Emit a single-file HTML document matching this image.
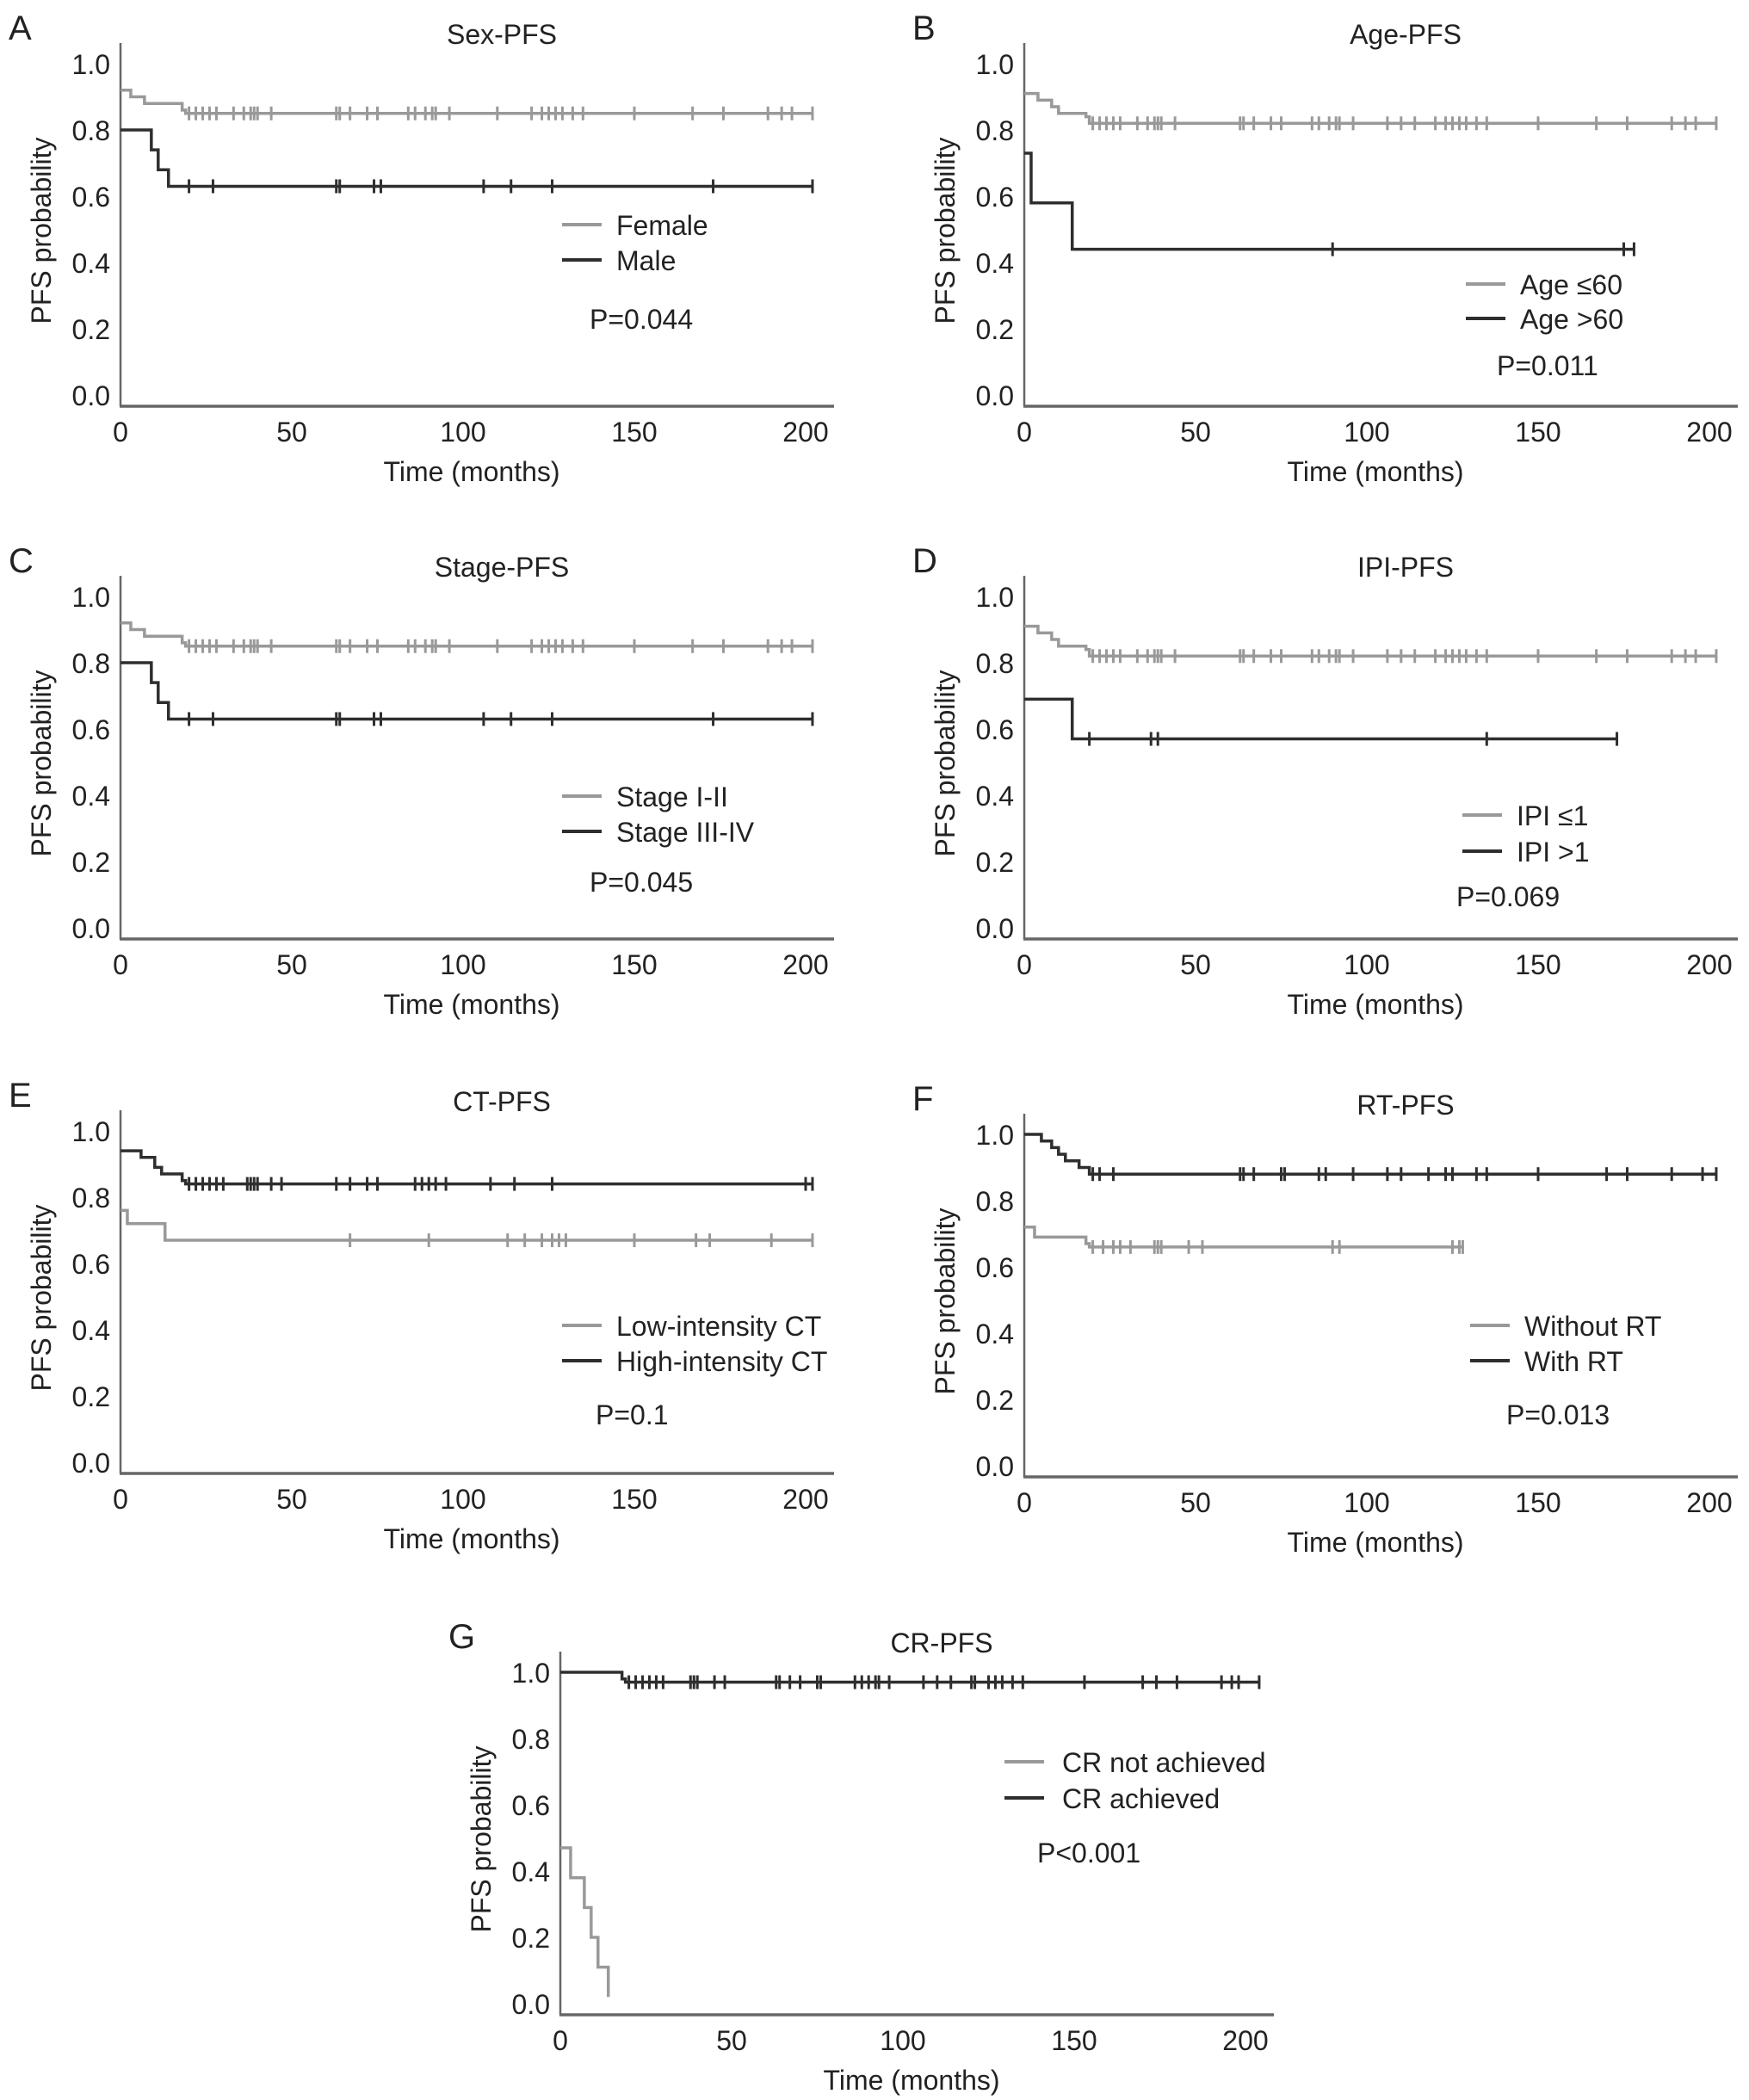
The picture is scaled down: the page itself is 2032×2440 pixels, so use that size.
<!DOCTYPE html>
<html><head><meta charset="utf-8"><style>
html,body{margin:0;padding:0;background:#fff}
svg{display:block}
text{font-family:"Liberation Sans",sans-serif;fill:#222}
</style></head><body>
<svg id="fig" width="2032" height="2440" viewBox="0 0 2032 2440" xmlns="http://www.w3.org/2000/svg"></svg>
<script>
// ---- data (time in months, survival probability) ----
const xTicks = [0, 50, 100, 150, 200];
const yTicks = [0.0, 0.2, 0.4, 0.6, 0.8, 1.0];

const femaleT = [0, 3, 7, 18, 19, 202];
const femaleS = [0.92, 0.90, 0.88, 0.86, 0.85, 0.85];
const femaleCens = [20,22,24,26,28,33,36,38,39,40,44,63,64,67,72,75,84,86,89,91,92,96,110,120,123,125,127,129,132,135,150,167,176,189,193,196,202];
const maleT = [0, 9, 11, 14, 202];
const maleS = [0.80, 0.74, 0.68, 0.63, 0.63];
const maleCens = [20,27,63,64,74,76,106,114,126,173,202];

const age60T = [0, 4, 8, 10, 18, 19, 202];
const age60S = [0.91, 0.89, 0.87, 0.85, 0.84, 0.82, 0.82];
const age60Cens = [20,22,24,26,28,33,36,38,39,40,44,63,64,67,72,75,84,86,89,91,92,96,106,110,114,120,123,125,127,129,132,135,150,167,176,189,193,196,202];
const ageOldT = [0, 2, 14, 178];
const ageOldS = [0.73, 0.58, 0.44, 0.44];
const ageOldCens = [90,175,178];

const stage12T = [0, 3, 7, 18, 19, 202];
const stage12S = [0.92, 0.90, 0.88, 0.86, 0.85, 0.85];
const stage12Cens = femaleCens;
const stage34T = [0, 9, 11, 14, 202];
const stage34S = [0.80, 0.74, 0.68, 0.63, 0.63];
const stage34Cens = maleCens;

const ipiLowT = [0, 4, 8, 10, 18, 19, 202];
const ipiLowS = [0.91, 0.89, 0.87, 0.85, 0.84, 0.82, 0.82];
const ipiLowCens = age60Cens;
const ipiHighT = [0, 14, 173];
const ipiHighS = [0.69, 0.57, 0.57];
const ipiHighCens = [19,37,39,135,173];

const ctLowT = [0, 2, 13, 202];
const ctLowS = [0.76, 0.72, 0.67, 0.67];
const ctLowCens = [67,90,113,118,123,126,128,130,150,168,172,190,202];
const ctHighT = [0, 6, 10, 12, 18, 19, 202];
const ctHighS = [0.94, 0.92, 0.89, 0.87, 0.85, 0.84, 0.84];
const ctHighCens = [20,22,24,26,28,30,37,38,39,40,44,47,63,67,72,75,86,88,90,92,95,108,115,126,200,202];

const rtNoT = [0, 3, 18, 19, 128];
const rtNoS = [0.72, 0.69, 0.67, 0.66, 0.66];
const rtNoCens = [20,23,26,28,31,38,39,40,48,52,90,92,125,127,128];
const rtYesT = [0, 5, 8, 10, 12, 16, 19, 202];
const rtYesS = [1.0, 0.98, 0.96, 0.94, 0.92, 0.90, 0.88, 0.88];
const rtYesCens = [20,22,26,63,64,67,75,76,86,88,96,106,110,118,123,125,132,135,150,170,176,189,198,202];

const crNoT = [0, 3, 7, 9, 11, 14];
const crNoS = [0.47, 0.38, 0.29, 0.20, 0.11, 0.02];
const crYesT = [0, 18, 19, 204];
const crYesS = [1.0, 0.98, 0.97, 0.97];
const crYesCens = [20,22,24,26,28,30,38,39,40,45,48,63,64,67,70,75,76,86,88,90,92,93,96,106,110,114,120,121,125,127,129,132,135,153,170,174,180,193,196,198,204];

const GRAY = "#999", DARK = "#2e2e2e";
const NS = "http://www.w3.org/2000/svg";
const svg = document.getElementById('fig');

function mk(tag, attrs, parent) {
  const e = document.createElementNS(NS, tag);
  for (const k in attrs) e.setAttribute(k, attrs[k]);
  (parent || svg).appendChild(e);
  return e;
}

const panels = [
  {id:'a', letter:'A', title:'Sex-PFS', ox:0, oy:0,
   series:[{t:femaleT,s:femaleS,c:femaleCens,col:GRAY,name:'Female'},{t:maleT,s:maleS,c:maleCens,col:DARK,name:'Male'}],
   leg:[261,302], lx:653, tx:716, p:'P=0.044', px:685, py:370},
  {id:'b', letter:'B', title:'Age-PFS', ox:1050, oy:0,
   series:[{t:age60T,s:age60S,c:age60Cens,col:GRAY,name:'Age ≤60'},{t:ageOldT,s:ageOldS,c:ageOldCens,col:DARK,name:'Age >60'}],
   leg:[330,370], lx:653, tx:716, p:'P=0.011', px:689, py:424},
  {id:'c', letter:'C', title:'Stage-PFS', ox:0, oy:619,
   series:[{t:stage12T,s:stage12S,c:stage12Cens,col:GRAY,name:'Stage I-II'},{t:stage34T,s:stage34S,c:stage34Cens,col:DARK,name:'Stage III-IV'}],
   leg:[306,347], lx:653, tx:716, p:'P=0.045', px:685, py:405},
  {id:'d', letter:'D', title:'IPI-PFS', ox:1050, oy:619,
   series:[{t:ipiLowT,s:ipiLowS,c:ipiLowCens,col:GRAY,name:'IPI ≤1'},{t:ipiHighT,s:ipiHighS,c:ipiHighCens,col:DARK,name:'IPI >1'}],
   leg:[328,370], lx:649, tx:712, p:'P=0.069', px:642, py:422},
  {id:'e', letter:'E', title:'CT-PFS', ox:0, oy:1240,
   series:[{t:ctLowT,s:ctLowS,c:ctLowCens,col:GRAY,name:'Low-intensity CT'},{t:ctHighT,s:ctHighS,c:ctHighCens,col:DARK,name:'High-intensity CT'}],
   leg:[300,341], lx:653, tx:716, p:'P=0.1', px:692, py:403},
  {id:'f', letter:'F', title:'RT-PFS', ox:1050, oy:1244,
   series:[{t:rtNoT,s:rtNoS,c:rtNoCens,col:GRAY,name:'Without RT'},{t:rtYesT,s:rtYesS,c:rtYesCens,col:DARK,name:'With RT'}],
   leg:[296,337], lx:658, tx:721, p:'P=0.013', px:700, py:399},
  {id:'g', letter:'G', title:'CR-PFS', ox:511, oy:1869,
   series:[{t:crNoT,s:crNoS,c:[],col:GRAY,name:'CR not achieved'},{t:crYesT,s:crYesS,c:crYesCens,col:DARK,name:'CR achieved'}],
   leg:[178,220], lx:656, tx:723, p:'P<0.001', px:694, py:283}
];

panels.forEach(P => {
  const g = mk('g', {transform:`translate(${P.ox},${P.oy})`});
  
  
  const X = t => 140 + t * 3.98;
  const Y = v => 459 - v * 385;

  const letter = mk('text', {x:10, y:46, 'font-size':40}, g);
  letter.textContent = P.letter;
  
  

  const title = mk('text', {x:583, y:51, 'font-size':32, 'text-anchor':'middle'}, g);
  title.textContent = P.title;
  
  

  const yax = mk('line', {x1:140, y1:50, x2:140, y2:472, stroke:'#666', 'stroke-width':2.5}, g);
  
  
  const xax = mk('line', {x1:139, y1:472, x2:969, y2:472, stroke:'#666', 'stroke-width':3.5}, g);
  
  

  yTicks.forEach(v => {
    const t = mk('text', {x:128, y:Y(v)+12, 'font-size':32, 'text-anchor':'end'}, g);
    t.textContent = v.toFixed(1);
    
    
  });
  xTicks.forEach(v => {
    const t = mk('text', {x:X(v), y:513, 'font-size':32, 'text-anchor':'middle'}, g);
    t.textContent = v;
    
    
  });
  const xt = mk('text', {x:548, y:559, 'font-size':32, 'text-anchor':'middle'}, g);
  xt.textContent = 'Time (months)';
  
  
  const yt = mk('text', {x:0, y:0, 'font-size':32, 'text-anchor':'middle', transform:'translate(59,268) rotate(-90)'}, g);
  yt.textContent = 'PFS probability';
  
  

  P.series.forEach((S, i) => {
    let d = `M${X(S.t[0])},${Y(S.s[0])}`;
    for (let k = 1; k < S.t.length; k++) {
      d += ` H${X(S.t[k])} V${Y(S.s[k])}`;
    }
    const path = mk('path', {d, fill:'none', stroke:S.col, 'stroke-width':3.5}, g);
    
    
    S.c.forEach(ct => {
      let v = S.s[0];
      for (let k = 0; k < S.t.length; k++) if (S.t[k] <= ct) v = S.s[k];
      const tk = mk('line', {x1:X(ct), y1:Y(v)-8, x2:X(ct), y2:Y(v)+8, stroke:S.col, 'stroke-width':3}, g);
      
      
    });
    const ly = P.leg[i];
    const ll = mk('line', {x1:P.lx, y1:ly, x2:P.lx+46, y2:ly, stroke:S.col, 'stroke-width':4}, g);
    
    
    const lt = mk('text', {x:P.tx, y:ly+12, 'font-size':32}, g);
    lt.textContent = S.name;
    
    
  });

  const pv = mk('text', {x:P.px, y:P.py+12, 'font-size':32}, g);
  pv.textContent = P.p;
  
  
});
</script>
</body></html>
